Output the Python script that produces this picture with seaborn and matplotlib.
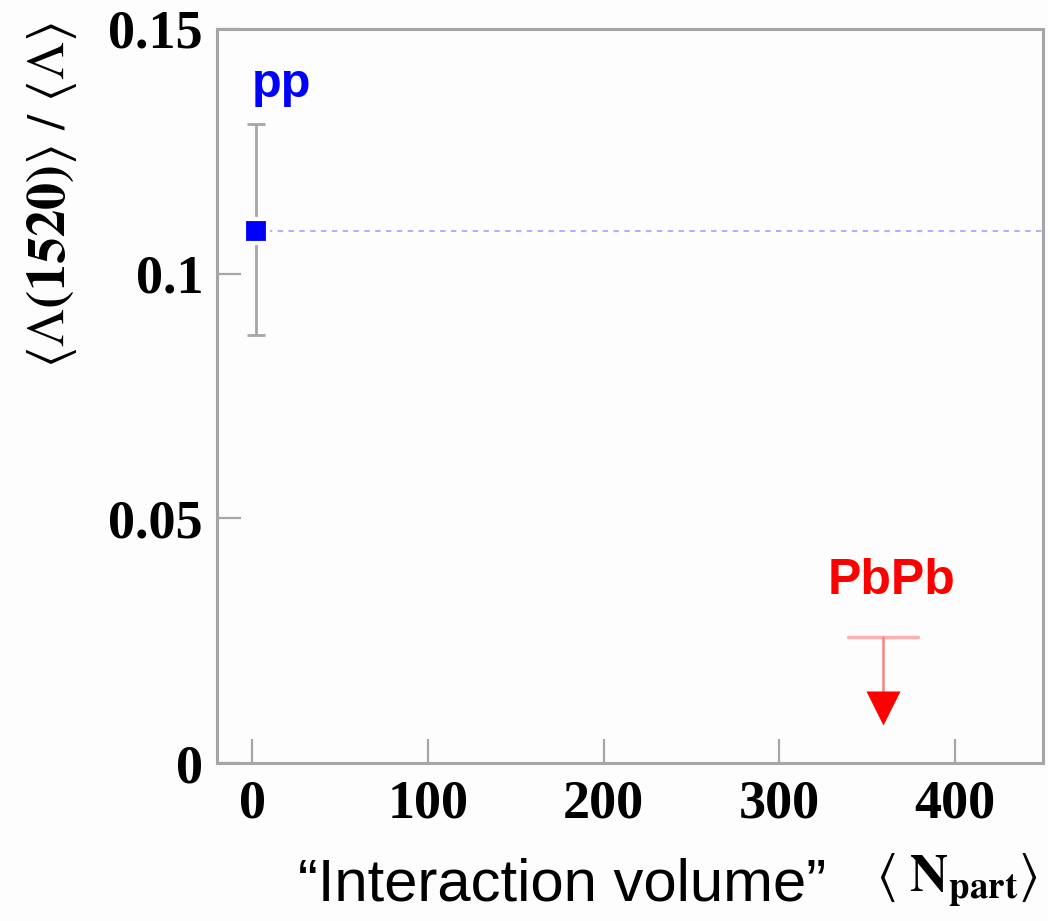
import matplotlib
matplotlib.use("Agg")
import matplotlib.pyplot as plt
import seaborn as sns
import pandas as pd

# ---- data ----
systems = ["pp", "PbPb"]
npart = [2, 359]
ratio = [0.1087, None]
pp_err_low = [0.0212]
pp_err_high = [0.0218]
pbpb_limit = [0.0258]
pbpb_arrow_tip = [0.0112]
pbpb_npart_halfwidth = [20]
x_ticks = [0, 100, 200, 300, 400]
y_ticks = [0, 0.05, 0.1, 0.15]
y_tick_labels = ["0", "0.05", "0.1", "0.15"]

sns.set_theme(style="white")
plt.rcParams["mathtext.fontset"] = "stix"

fig = plt.figure(figsize=(10.48, 9.21), dpi=100)
fig.patch.set_facecolor("#fdfdfd")
ax = fig.add_axes([217/1048, 1 - 763/921, 826/1048, 734/921])
ax.set_facecolor("#fdfdfd")

frame_col = "#a6a6a6"
for s in ax.spines.values():
    s.set_color(frame_col)
    s.set_linewidth(2.2)

ax.set_xlim(-20, 450)
ax.set_ylim(0, 0.15)

# pp: dashed reference line
ax.plot([npart[0], 450], [ratio[0], ratio[0]], color="#a8a8ff", lw=1.3,
        ls=(0, (3, 3)), zorder=2)
# pp error bar
ax.errorbar([npart[0]], [ratio[0]], yerr=[[pp_err_low[0]], [pp_err_high[0]]],
            fmt="none", ecolor="#a6a6a6", elinewidth=2, capsize=6.5, capthick=2, zorder=3)
df_pp = pd.DataFrame({"x": [npart[0]], "y": [ratio[0]]})
sns.scatterplot(data=df_pp, x="x", y="y", marker="s", s=280, color="#0000ff",
                edgecolor="#fdfdfd", linewidth=3, ax=ax, zorder=4)

# PbPb upper limit
hw = pbpb_npart_halfwidth[0]
ax.plot([npart[1] - hw, npart[1] + hw], [pbpb_limit[0]] * 2, color="#ffb0b0", lw=2.5, zorder=3)
ax.plot([npart[1], npart[1]], [pbpb_limit[0], pbpb_arrow_tip[0]], color="#ff8080", lw=1.8, zorder=3)
df_pb = pd.DataFrame({"x": [npart[1]], "y": [pbpb_arrow_tip[0]]})
sns.scatterplot(data=df_pb, x="x", y="y", marker="v", s=600, color="#ff0000",
                linewidth=0, ax=ax, zorder=4)

# labels for systems
ax.text(npart[0] - 2, 0.1362, systems[0], color="#0000ff", fontsize=35,
        fontweight="bold", family="Liberation Sans", ha="left", va="baseline")
ax.text(npart[1] + 5, 0.0345, systems[1], color="#ff0000", fontsize=36,
        fontweight="bold", family="Liberation Sans", ha="center", va="baseline")

# ticks
ax.set_xticks(x_ticks)
ax.set_yticks(y_ticks)
ax.set_yticklabels(y_tick_labels)
ax.tick_params(axis="both", direction="in", length=17, width=1.6, color=frame_col,
               bottom=True, left=True, top=False, right=False, labelsize=39)
ax.tick_params(axis="y", pad=10)
ax.tick_params(axis="x", pad=12)
for lab in ax.get_xticklabels() + ax.get_yticklabels():
    lab.set_family("Liberation Serif")
    lab.set_fontweight("bold")
    lab.set_color("black")
ax.set_xlabel("")
ax.set_ylabel("")

# y axis title
fig.text(52/1048, 1 - 195/921,
         r"$\langle\Lambda\mathbf{(1520)}\rangle\ /\ \langle\Lambda\rangle$",
         rotation=90, fontsize=39, ha="center", va="center", color="black")

# x axis title
fig.text(298/1048, 1 - 885/921, "\u201cInteraction volume\u201d", fontsize=43,
         family="Liberation Sans", ha="left", va="center", color="black")
fig.text(876/1048, 1 - 880/921, r"$\langle\ \mathbf{N_{part}}\rangle$", fontsize=38,
         ha="left", va="center", color="black")

fig.savefig("out.png", dpi=100, facecolor=fig.get_facecolor())
